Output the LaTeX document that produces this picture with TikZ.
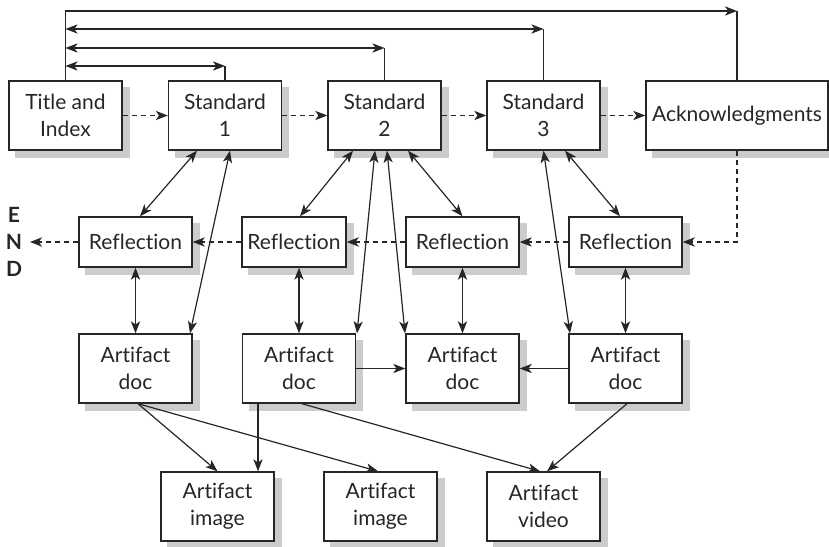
\documentclass[tikz,border=0pt]{standalone}
\usepackage{fontspec}
\setmainfont{Lato}[Ligatures=NoCommon]
\usetikzlibrary{arrows.meta,calc,backgrounds}
\begin{document}
\begin{tikzpicture}[x=0.5pt,y=-0.5pt,
  >={Stealth[length=6pt,width=4.6pt,inset=1.6pt]},
  box/.style={draw=black!85, line width=0.7pt, fill=white, align=center, inner sep=0pt,
    minimum width=56.5pt, minimum height=34.5pt, font=\fontsize{10.5}{13.5}\selectfont, text=black!85},
  rbox/.style={box, minimum height=25pt},
  shade box/.style={fill=black!20, draw=none},
  conn/.style={draw=black!85, line width=0.6pt},
  dsh/.style={conn, dash pattern=on 2.5pt off 2pt}]
\useasboundingbox (0,0) rectangle (829,546);
% top row
\node[box] (title) at (65.5,115.5) {Title and\\Index};
\node[box] (s1) at (225,115.5) {Standard\\1};
\node[box] (s2) at (384.5,115.5) {Standard\\2};
\node[box] (s3) at (543.5,115.5) {Standard\\3};
\node[box, minimum width=91pt] (ack) at (737,115.5) {Acknowledgments};
% reflections
\node[rbox] (r1) at (135.5,242) {Reflection};
\node[rbox, minimum width=52pt] (r2) at (294,242) {Reflection};
\node[rbox] (r3) at (462.5,242) {Reflection};
\node[rbox] (r4) at (625.5,242) {Reflection};
% docs
\node[box] (d1) at (135.5,368.5) {Artifact\\doc};
\node[box] (d2) at (299,368.5) {Artifact\\doc};
\node[box] (d3) at (462.5,368.5) {Artifact\\doc};
\node[box] (d4) at (625.5,368.5) {Artifact\\doc};
% bottom
\node[box] (i1) at (217.5,506.5) {Artifact\\image};
\node[box] (i2) at (380.5,506.5) {Artifact\\image};
\node[box] (v1) at (543.5,506.5) {Artifact\\video};
% shadows
\begin{scope}[on background layer]
\foreach \n in {title,s1,s2,s3,ack,r1,r2,r3,r4,d1,d2,d3,d4,i1,i2,v1}
  \fill[shade box] ($(\n.north west)+(7,7)$) rectangle ($(\n.south east)+(7,7)$);
\end{scope}
% END
\node[font=\fontsize{10.5}{13.5}\selectfont\bfseries, text=black!85, align=center, inner sep=0pt] (endlbl) at (14,242) {E\\N\\D};
\coordinate (endpt) at (30,242);
% top feedback lines
\coordinate (ya) at (0,11);
\coordinate (yb) at (0,29);
\coordinate (yc) at (0,48);
\coordinate (yd) at (0,66);
\draw[conn,->] (title.north) |- (ack.north |- ya);
\draw[conn] (ack.north) -- (ack.north |- ya);
\draw[conn,<->] (title.north |- yb) -- (s3.north |- yb);
\draw[conn] (s3.north) -- (s3.north |- yb);
\draw[conn,<->] (title.north |- yc) -- (s2.north |- yc);
\draw[conn] (s2.north) -- (s2.north |- yc);
\draw[conn,<->] (title.north |- yd) -- (s1.north |- yd);
\draw[conn] (s1.north) -- (s1.north |- yd);
% dashed sequence
\draw[dsh,->] (title) -- (s1);
\draw[dsh,->] (s1) -- (s2);
\draw[dsh,->] (s2) -- (s3);
\draw[dsh,->] (s3) -- (ack);
\draw[dsh,->] (ack.south) |- (r4.east);
\draw[dsh,->] (r4) -- (r3);
\draw[dsh,->] (r3) -- (r2);
\draw[dsh,->] (r2) -- (r1);
\draw[dsh,->] (r1) -- (endpt);
% standards to reflections / docs
\draw[conn,<->] ($(s1.south)+(-28,0)$) -- ($(r1.north)+(4.5,0)$);
\draw[conn,<->] ($(s1.south)+(5,0)$) -- ($(d1.north)+(54.5,0)$);
\draw[conn,<->] ($(s2.south)+(-31.5,0)$) -- ($(r2.north)+(6,0)$);
\draw[conn,<->] ($(s2.south)+(-9.5,0)$) -- ($(d2.north)+(58,0)$);
\draw[conn,<->] ($(s2.south)+(2.5,0)$) -- ($(d3.north)+(-57.5,0)$);
\draw[conn,<->] ($(s2.south)+(23.5,0)$) -- (r3.north);
\draw[conn,<->] (s3.south) -- ($(d4.north)+(-55.5,0)$);
\draw[conn,<->] ($(s3.south)+(21.5,0)$) -- ($(r4.north)+(-5.5,0)$);
% reflections to docs
\draw[conn,<->] (r1) -- (d1);
\draw[conn,<->] (d2.north |- r2.south) -- (d2.north);
\draw[conn,<->] (r3) -- (d3);
\draw[conn,<->] (r4) -- (d4);
% doc to doc
\draw[conn,->] (d2) -- (d3);
\draw[conn,->] (d4) -- (d3);
% docs to bottom
\draw[conn,->] ($(d1.south)+(2.5,0)$) -- (i1.north);
\draw[conn,->] ($(d1.south)+(2.5,0)$) -- ($(i2.north)+(-2.5,0)$);
\draw[conn,->] ($(d2.south)+(-41,0)$) -- ($(i1.north)+(40.5,0)$);
\draw[conn,->] ($(d2.south)+(3,0)$) -- ($(v1.north)+(-3.5,0)$);
\draw[conn,->] ($(d4.south)+(1.5,0)$) -- ($(v1.north)+(3.5,0)$);
\end{tikzpicture}
\end{document}
